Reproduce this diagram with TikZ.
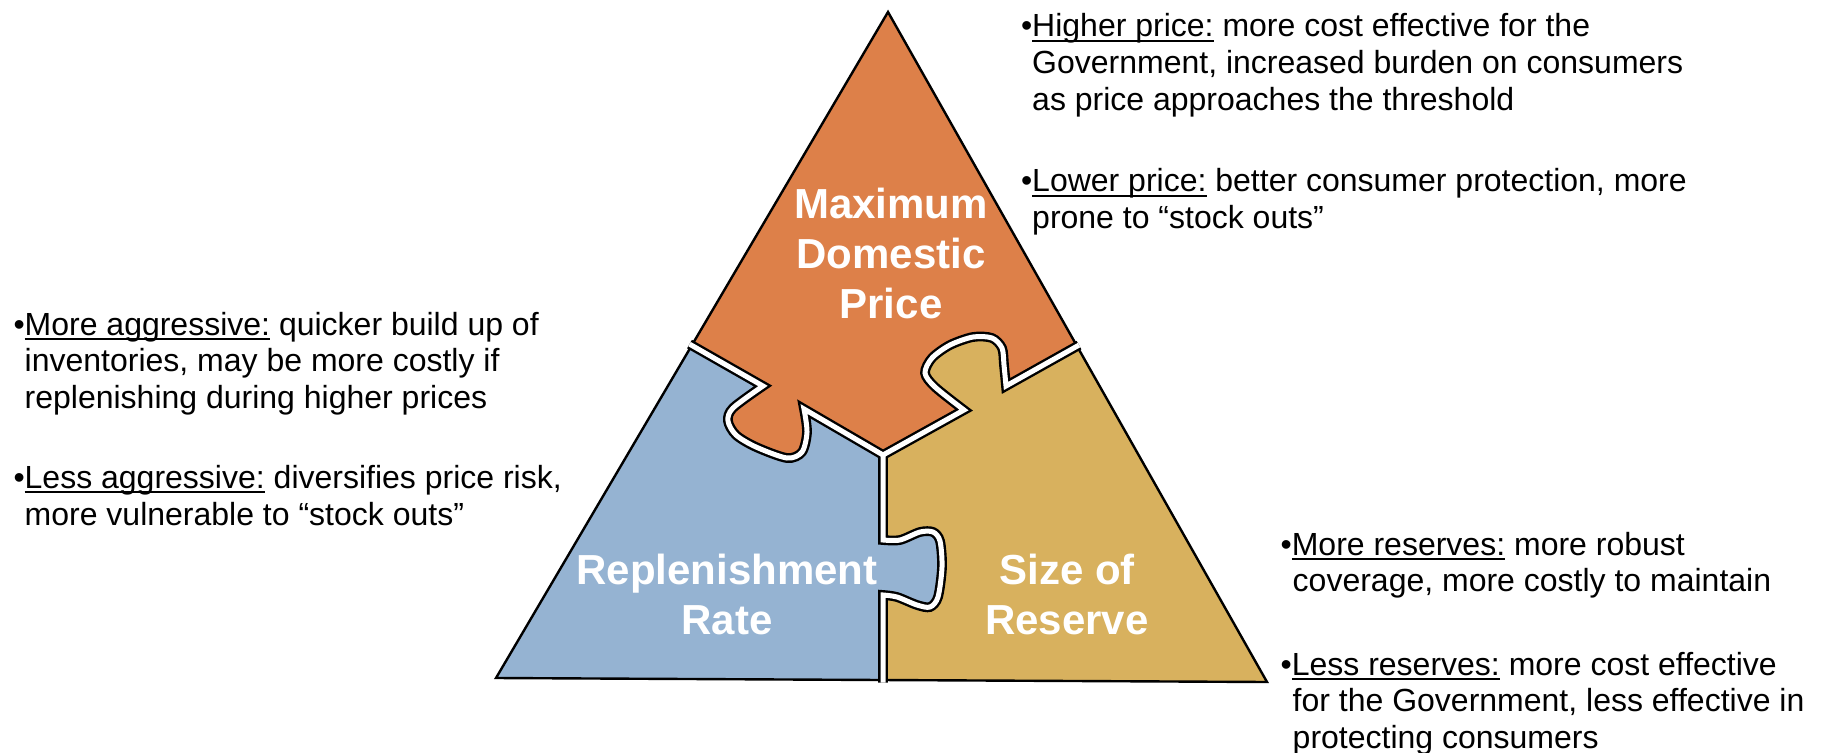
\documentclass[tikz,border=0pt]{standalone}
\usepackage{fontspec}
\setmainfont{Liberation Sans}
\definecolor{porange}{RGB}{221,128,73}
\definecolor{pblue}{RGB}{149,179,210}
\definecolor{ptan}{RGB}{216,177,94}
\newsavebox{\ulbox}
\newcommand{\myul}[1]{\sbox{\ulbox}{#1}\rlap{\rule[-5pt]{\wd\ulbox}{2pt}}\usebox{\ulbox}}
% puzzle boundaries (centre line of the white gap)
\newcommand{\bndA}[2]{(#1) -- plot[smooth] coordinates {(763,386) (733,408) (728,421) (736,435) (756,447) (787,458) (802,452) (807,432) (804,409)} -- (#2)}
\newcommand{\bndB}[2]{(#1) -- plot[smooth] coordinates {(964,410) (935,387) (925,373) (932,358) (950,345) (973,337) (992,338) (1002,348) (1004,365) (1006,386)} -- (#2)}
\newcommand{\bndC}[2]{(#1) -- plot[smooth] coordinates {(883,540) (900,540) (920,532) (933,532) (940,541) (942,567) (938,597) (930,607) (917,605) (897,597) (883,595)} -- (#2)}
\begin{document}
\begin{tikzpicture}[x=1pt,y=-1pt,
  txt/.style={anchor=base west, inner sep=0pt, font=\fontsize{32}{36.7}\selectfont},
  lbl/.style={anchor=base, inner sep=0pt, text=white, font=\fontsize{42}{50}\selectfont\bfseries},
  outline/.style={draw=black, line width=2.4pt},
  gapblack/.style={draw=black, line width=9.8pt},
  gapwhite/.style={draw=white, line width=5pt}]
\useasboundingbox (0,0) rectangle (1822,752);
\coordinate (A) at (888,12);
\coordinate (BL) at (496,678);
\coordinate (BR) at (1267,682);
\coordinate (M1) at (691,345);
\coordinate (M2) at (1077.5,346);
\coordinate (M3) at (883,680);
\coordinate (C) at (883,455);
\coordinate (M1x) at (689.5,344.1);
\coordinate (M2x) at (1079,345.1);
\coordinate (M3x) at (883,682.5);
% fills
\fill[ptan] (A) -- (BL) -- (BR) -- cycle;
\fill[porange] (A) -- \bndA{M1}{C} -- \bndB{C}{M2} -- cycle;
\fill[pblue] (BL) -- \bndA{M1}{C} -- \bndC{C}{M3} -- cycle;
% outline
\draw[outline] (A) -- (BL) -- (BR) -- cycle;
% gaps between the pieces
\draw[gapblack] \bndA{M1x}{C};
\draw[gapblack] \bndB{C}{M2x};
\draw[gapblack] \bndC{C}{M3x};
\draw[gapwhite] \bndA{M1x}{C};
\draw[gapwhite] \bndB{C}{M2x};
\draw[gapwhite] \bndC{C}{M3x};
% piece labels
\node[lbl] (max1) at (891,218) {Maximum};
\node[lbl] (max2) at (891,268) {Domestic};
\node[lbl] (max3) at (891,318) {Price};
\node[lbl] (rep1) at (727,584) {Replenishment};
\node[lbl] (rep2) at (727,634) {Rate};
\node[lbl] (siz1) at (1067,584) {Size of};
\node[lbl] (siz2) at (1067,634) {Reserve};
% left text
\node[txt] (l1) at (13.3,335) {•\myul{More aggressive:} quicker build up of};
\node[txt] (l2) at (24.5,371.7) {inventories, may be more costly if};
\node[txt] (l3) at (24.5,408.3) {replenishing during higher prices};
\node[txt] (l4) at (13.3,488.3) {•\myul{Less aggressive:} diversifies price risk,};
\node[txt] (l5) at (24.5,525) {more vulnerable to “stock outs”};
% top right text
\node[txt] (r1) at (1020.8,36.7) {•\myul{Higher price:} more cost effective for the};
\node[txt] (r2) at (1032,73.3) {Government, increased burden on consumers};
\node[txt] (r3) at (1032,110) {as price approaches the threshold};
\node[txt] (r4) at (1020.8,191.7) {•\myul{Lower price:} better consumer protection, more};
\node[txt] (r5) at (1032,228.3) {prone to “stock outs”};
% bottom right text
\node[txt] (b1) at (1280.4,555) {•\myul{More reserves:} more robust};
\node[txt] (b2) at (1292.5,591.7) {coverage, more costly to maintain};
\node[txt] (b3) at (1280.4,675) {•\myul{Less reserves:} more cost effective};
\node[txt] (b4) at (1292.5,711.7) {for the Government, less effective in};
\node[txt] (b5) at (1292.5,748.3) {protecting consumers};
\end{tikzpicture}
\end{document}
